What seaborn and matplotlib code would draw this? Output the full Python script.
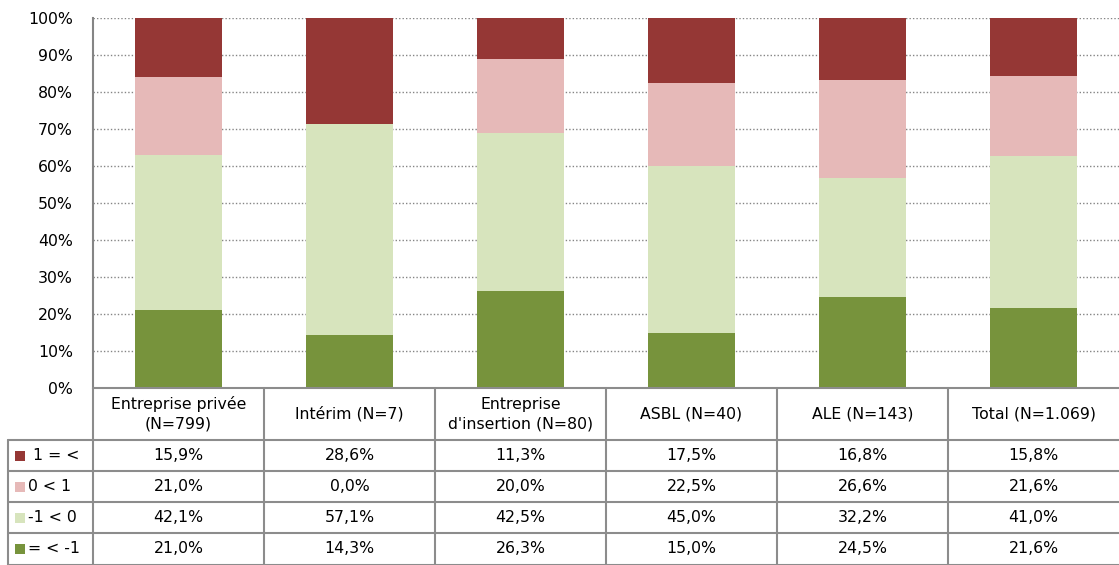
import matplotlib
matplotlib.use("Agg")
import matplotlib.pyplot as plt
import seaborn as sns
import pandas as pd
import numpy as np

# Categories and shares (%) per response band
categories = ["Entreprise privée\n(N=799)", "Intérim (N=7)", "Entreprise\nd'insertion (N=80)",
              "ASBL (N=40)", "ALE (N=143)", "Total (N=1.069)"]
series_labels = ["1 = <", "0 < 1", "-1 < 0", "= < -1"]
band_top = [15.9, 28.6, 11.3, 17.5, 16.8, 15.8]      # 1 = <
band_upper = [21.0, 0.0, 20.0, 22.5, 26.6, 21.6]     # 0 < 1
band_lower = [42.1, 57.1, 42.5, 45.0, 32.2, 41.0]    # -1 < 0
band_bottom = [21.0, 14.3, 26.3, 15.0, 24.5, 21.6]   # = < -1
colors = ["#953735", "#E6B9B8", "#D7E4BD", "#77933C"]
yticks = [0, 10, 20, 30, 40, 50, 60, 70, 80, 90, 100]

series = [band_top, band_upper, band_lower, band_bottom]

sns.set_theme(style="white")
plt.rcParams["font.family"] = ["DejaVu Sans"]

FS = 11.3
W, H = 1119, 565
fig = plt.figure(figsize=(W / 100, H / 100), dpi=100)
ax = fig.add_axes([93 / W, (H - 388) / H, (W - 93) / W, 370 / H])

# Stacked bars: draw cumulative totals from the tallest down so each band shows
stack_order = [band_bottom, band_lower, band_upper, band_top]
stack_colors = [colors[3], colors[2], colors[1], colors[0]]
cum = np.cumsum(np.array(stack_order), axis=0)
df = pd.DataFrame({"cat": categories})
for i in range(len(stack_order) - 1, -1, -1):
    df["v"] = cum[i]
    sns.barplot(data=df, x="cat", y="v", color=stack_colors[i], saturation=1,
                width=0.51, ax=ax, zorder=3, edgecolor="none", linewidth=0)

ax.set_xlim(-0.5, len(categories) - 0.5)
ax.set_ylim(0, 100)
ax.set_yticks(yticks)
ax.set_yticklabels([f"{t}%" for t in yticks], fontsize=FS, color="#000000")
ax.tick_params(axis="y", length=0, pad=14.5)
ax.set_xticks([])
ax.set_xlabel("")
ax.set_ylabel("")
ax.yaxis.grid(True, linestyle=(0, (1, 1.5)), color="#858585", linewidth=1.0, zorder=0)
ax.set_axisbelow(True)
for s in ["top", "right", "bottom"]:
    ax.spines[s].set_visible(False)
ax.spines["left"].set_color("#858585")
ax.spines["left"].set_linewidth(1.5)

# Data table below the plot, in pixel coordinates of the figure
def fx(px):
    return px / W

def fy(py):
    return (H - py) / H

line_kw = dict(color="#8c8c8c", linewidth=1.5, transform=fig.transFigure, clip_on=False)
col_edges = [93 + i * (W - 93) / len(categories) for i in range(len(categories) + 1)]
row_edges = [440, 471, 502, 533, 564.5]

# horizontal lines
fig.add_artist(plt.Line2D([fx(93), fx(W)], [fy(388), fy(388)], **line_kw))
for r in row_edges:
    fig.add_artist(plt.Line2D([fx(8), fx(W)], [fy(r), fy(r)], **line_kw))
# vertical lines
for c in col_edges[:-1]:
    fig.add_artist(plt.Line2D([fx(c), fx(c)], [fy(388), fy(H)], **line_kw))
fig.add_artist(plt.Line2D([fx(8), fx(8)], [fy(440), fy(H)], **line_kw))

# header labels
for i, cat in enumerate(categories):
    cx = (col_edges[i] + col_edges[i + 1]) / 2
    fig.text(fx(cx), fy(414), cat, ha="center", va="center", fontsize=FS,
             linespacing=1.35, color="#000000")

# rows: legend key + values
for j, (lab, vals, col) in enumerate(zip(series_labels, series, colors)):
    cy = (row_edges[j] + row_edges[j + 1]) / 2
    fig.add_artist(plt.Rectangle((fx(15), fy(cy + 5)), 10 / W, 10 / H, facecolor=col,
                                 edgecolor="none", transform=fig.transFigure))
    text = (" " + lab) if lab.startswith("1") else lab
    fig.text(fx(28), fy(cy), text, ha="left", va="center", fontsize=FS, color="#000000")
    for i, v in enumerate(vals):
        cx = (col_edges[i] + col_edges[i + 1]) / 2
        fig.text(fx(cx), fy(cy), f"{v:.1f}%".replace(".", ","), ha="center", va="center",
                 fontsize=FS, color="#000000")

fig.savefig("out.png", dpi=100, facecolor="white")
